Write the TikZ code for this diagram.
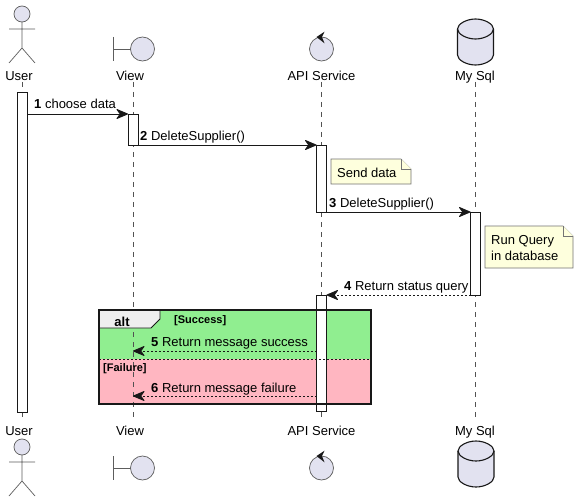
\documentclass[tikz,border=0pt]{standalone}
\usepackage{fontspec}
\setmainfont{Liberation Sans}
\usetikzlibrary{arrows.meta}
\definecolor{partfill}{HTML}{E2E2F0}
\definecolor{ink}{HTML}{181818}
\definecolor{notefill}{HTML}{FEFFDD}
\definecolor{altgreen}{HTML}{90EE90}
\definecolor{altpink}{HTML}{FFB6C1}
\definecolor{tabgray}{HTML}{EEEEEE}
\tikzset{
  lbl/.style={inner sep=0pt,font=\fontsize{13}{15}\selectfont,text=black},
  part/.style={lbl,anchor=base},
  msgtext/.style={lbl,anchor=base west},
  small/.style={inner sep=0pt,anchor=base west,font=\fontsize{11}{13}\selectfont\bfseries},
  life/.style={draw=ink!75,line width=.6pt,dash pattern=on 5pt off 5pt},
  act/.style={draw=ink,fill=white,line width=.9pt,inner sep=0pt,outer sep=0pt,minimum width=10pt},
  glyph/.style={draw=ink!70,fill=partfill,line width=.7pt},
  msg/.style={draw=ink,line width=.9pt,-{Stealth[length=13pt,width=11pt,inset=4pt,round]}},
  ret/.style={msg,dash pattern=on 2pt off 2pt},
  note/.style={draw=ink!60,fill=notefill,line width=.6pt},
  pics/actorfig/.style={code={
    \draw[glyph] (0,-8) circle[radius=8];
    \draw[ink!70,line width=.7pt] (0,0)--(0,26) (-13,7)--(13,7) (-13,41)--(0,26)--(13,41);}},
  pics/boundaryfig/.style={code={
    \draw[ink!70,line width=.7pt] (-29,-12)--(-29,12) (-29,0)--(-12,0);
    \draw[glyph] (0,0) circle[radius=12];}},
  pics/controlfig/.style={code={
    \draw[glyph] (0,0) circle[radius=12];
    \fill[ink] (-5,-12)--(3,-17.3)--(.5,-12)--(3,-5.7)--cycle;}},
  pics/dbfig/.style={code={
    \draw[draw=ink,fill=partfill,line width=1.1pt] (-18,-10) .. controls (-18,-15) and (-9,-20) .. (0,-20)
      .. controls (9,-20) and (18,-15) .. (18,-10) -- (18,16)
      .. controls (18,21) and (9,26) .. (0,26) .. controls (-9,26) and (-18,21) .. (-18,16) -- cycle;
    \draw[ink,line width=1.1pt] (-18,-10) .. controls (-18,-5) and (-9,0) .. (0,0) .. controls (9,0) and (18,-5) .. (18,-10);}},
}
\begin{document}
\begin{tikzpicture}[x=1pt,y=-1pt]
\useasboundingbox (0,0) rectangle (579,503);
\fill[white] (0,0) rectangle (579,503);

% alt backgrounds
\fill[altgreen] (99,310) rectangle (371,359);
\fill[altpink] (99,359) rectangle (371,404);

% lifelines
\coordinate (lu1) at (22,82); \coordinate (lu2) at (22,421);
\coordinate (lv1) at (133,82); \coordinate (lv2) at (133,421);
\coordinate (la1) at (321.5,82); \coordinate (la2) at (321.5,421);
\coordinate (lm1) at (475.5,82); \coordinate (lm2) at (475.5,421);
\draw[life] (lu1)--(lu2);
\draw[life] (lv1)--(lv2);
\draw[life] (la1)--(la2);
\draw[life] (lm1)--(lm2);

% participants
\pic at (22,22) {actorfig};
\pic at (142.5,49) {boundaryfig};
\pic at (321.5,49) {controlfig};
\pic at (475.5,39) {dbfig};
\node[part] (tu) at (19,81) {User};
\node[part] (tv) at (130,81) {View};
\node[part] (ta) at (321.5,81) {API Service};
\node[part] (tm) at (475,81) {My Sql};
\node[part] (bu) at (19,435) {User};
\node[part] (bv) at (130,435) {View};
\node[part] (ba) at (321.5,435) {API Service};
\node[part] (bm) at (475,435) {My Sql};
\pic at (22,455) {actorfig};
\pic at (142.5,468) {boundaryfig};
\pic at (321.5,468) {controlfig};
\pic at (476,461) {dbfig};

% activations
\node[act,minimum height=320pt] (aU) at (22,252) {};
\node[act,minimum height=31pt] (aV) at (133,129.5) {};
\node[act,minimum height=67pt] (aA1) at (321.5,178.5) {};
\node[act,minimum height=83pt] (aM) at (475.5,253.5) {};
\node[act,minimum height=116pt] (aA2) at (321.5,353) {};

% alt frame
\coordinate (fa) at (99,310); \coordinate (fb) at (371,404);
\draw[draw=ink,fill=tabgray,line width=.8pt] (99,310)--(160,310)--(160,319)--(151,328)--(99,328)--cycle;
\draw[ink,line width=1.5pt] (fa) rectangle (fb);
\draw[ink,line width=.8pt,dash pattern=on 2pt off 2pt] (99,359)--(371,359);
\node[lbl,font=\fontsize{13}{15}\selectfont\bfseries,anchor=base] (talt) at (122,326) {alt};
\node[small] (ts) at (174,323) {[Success]};
\node[small] (tf) at (103,371) {[Failure]};

% messages
\draw[msg] (aU.east |- aV.north) -- (aV.north west);
\draw[msg] (aV.south east) -- (aA1.north west);
\draw[msg] (aA1.south east) -- (aM.north west);
\draw[ret] (aM.south west) -- (aA2.north east);
\draw[ret] (aA2.west |- 0,351) -- (lv1 |- 0,351);
\draw[ret] (aA2.west |- 0,396) -- (lv1 |- 0,396);

\node[msgtext] (m1) at (34,109) {\textbf{1} choose data};
\node[msgtext] (m2) at (140,140) {\textbf{2} DeleteSupplier()};
\node[msgtext] (m3) at (329,207) {\textbf{3} DeleteSupplier()};
\node[msgtext] (m4) at (344,290) {\textbf{4} Return status query};
\node[msgtext] (m5) at (151,346) {\textbf{5} Return message success};
\node[msgtext] (m6) at (151,392) {\textbf{6} Return message failure};

% notes
\draw[note] (331,159)--(401,159)--(411,169)--(411,184)--(331,184)--cycle;
\draw[note] (401,159)--(401,169)--(411,169);
\node[msgtext] (n1) at (337,177) {Send data};
\draw[note] (485,226)--(563,226)--(573,236)--(573,268)--(485,268)--cycle;
\draw[note] (563,226)--(563,236)--(573,236);
\node[msgtext] (n2a) at (491,244) {Run Query};
\node[msgtext] (n2b) at (491,260) {in database};
\end{tikzpicture}
\end{document}
